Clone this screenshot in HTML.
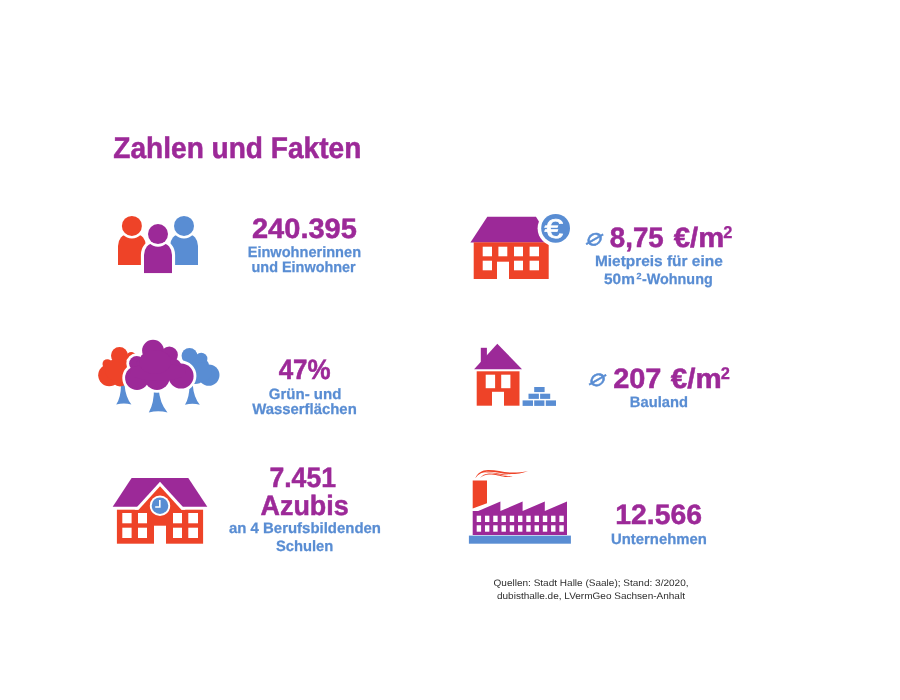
<!DOCTYPE html>
<html lang="de"><head><meta charset="utf-8"><title>Zahlen und Fakten</title>
<style>
html,body{margin:0;padding:0;background:#fff;}
body{width:900px;height:700px;overflow:hidden;}
svg{display:block;font-family:"Liberation Sans",sans-serif;text-rendering:geometricPrecision;}
</style></head><body>
<svg width="900" height="700" viewBox="0 0 900 700">
<!-- people -->
<g id="people">
 <path fill="#ee4328" d="M118,265 V246 A10,12 0 0 1 128,234 H136 A10,12 0 0 1 146,246 V265 Z"/>
 <circle cx="131.9" cy="225.9" r="12.6" fill="#fff"/><circle cx="131.9" cy="225.9" r="10" fill="#ee4328"/>
 <path fill="#598dd3" d="M170,265 V246 A10,12 0 0 1 180,234 H188 A10,12 0 0 1 198,246 V265 Z"/>
 <circle cx="184" cy="225.9" r="12.6" fill="#fff"/><circle cx="184" cy="225.9" r="10" fill="#598dd3"/>
 <path fill="#9c2998" stroke="#fff" stroke-width="6.2" paint-order="stroke" d="M144,273.3 V255 A10,12 0 0 1 154,243 H162 A10,12 0 0 1 172,255 V273.3 Z"/>
 <rect x="140" y="273.3" width="36" height="4" fill="#fff"/>
 <circle cx="158" cy="234.1" r="12.6" fill="#fff"/><circle cx="158" cy="234.1" r="10" fill="#9c2998"/>
</g>
<!-- trees -->
<g id="trees">
 <!-- trunks -->
 <path fill="#598dd3" d="M121,385 H124.6 Q125.5,397 131.4,404.6 Q124,402.6 116.2,404.6 Q121,397 121,385 Z"/>
 <path fill="#598dd3" d="M189.4,385 H192.8 Q193.6,397 199.8,404.8 Q192.5,402.8 185,404.8 Q189.6,397 189.4,385 Z"/>
 <path fill="#598dd3" d="M154,388 H158.6 Q159.5,403 167.5,412.6 Q158.3,410 148.8,412.6 Q154.2,403 154,388 Z"/>
 <!-- red crown -->
 <g fill="#ee4328">
  <circle cx="119.5" cy="355.6" r="8.5"/>
  <circle cx="131.2" cy="356.5" r="4.5"/>
  <circle cx="107.3" cy="364" r="4.8"/>
  <circle cx="109.2" cy="375.3" r="11"/>
  <circle cx="124" cy="372" r="12"/>
  <circle cx="120" cy="378" r="8.5"/>
  <ellipse cx="117" cy="370" rx="12" ry="11"/>
 </g>
 <!-- blue crown -->
 <g fill="#598dd3">
  <circle cx="189.5" cy="355.8" r="7.9"/>
  <circle cx="201.2" cy="359" r="6.2"/>
  <circle cx="208.8" cy="375.1" r="10.7"/>
  <circle cx="195" cy="372" r="12"/>
  <circle cx="200" cy="366" r="9"/>
  <ellipse cx="200" cy="372" rx="12" ry="10"/>
 </g>
 <!-- purple crown with white outline -->
 <g id="pc" fill="#9c2998" stroke="#fff" stroke-width="5.6">
  <circle cx="153" cy="350.6" r="10.9"/>
  <circle cx="169.3" cy="355" r="8.6"/>
  <circle cx="136.7" cy="363.6" r="7.6"/>
  <circle cx="137" cy="378" r="11.9"/>
  <circle cx="157" cy="377.4" r="12.6"/>
  <circle cx="181" cy="376" r="12.6"/>
  <circle cx="160" cy="366" r="14"/>
 </g>
 <g fill="#9c2998">
  <circle cx="153" cy="350.6" r="10.9"/>
  <circle cx="169.3" cy="355" r="8.6"/>
  <circle cx="136.7" cy="363.6" r="7.6"/>
  <circle cx="137" cy="378" r="11.9"/>
  <circle cx="157" cy="377.4" r="12.6"/>
  <circle cx="181" cy="376" r="12.6"/>
  <circle cx="160" cy="366" r="14"/>
  <circle cx="146" cy="366" r="10"/>
  <circle cx="172" cy="368" r="10"/>
  <ellipse cx="158" cy="372" rx="28" ry="9"/>
  <ellipse cx="155" cy="362" rx="16" ry="12"/>
 </g>
</g>
<!-- school -->
<g id="school">
 <polygon fill="#9c2998" points="131.6,477.9 188.3,477.9 207.3,506.7 112.7,506.7"/>
 <rect fill="#ee4328" x="116.9" y="509.7" width="86.2" height="34"/>
 <!-- gable white outline + red gable -->
 <polygon fill="#fff" points="160,481.7 185.5,509.7 134.5,509.7"/>
 <polygon fill="#ee4328" points="160,486.3 181.6,510 138.4,510"/>
 <circle cx="160" cy="505.7" r="10.2" fill="#fff"/>
 <circle cx="160" cy="505.7" r="8.3" fill="#598dd3"/>
 <path d="M159.8,500 V507 H155.2" fill="none" stroke="#fff" stroke-width="1.6"/>
 <g fill="#fff">
  <rect x="122.3" y="513" width="9.3" height="10.3"/><rect x="138" y="513" width="9" height="10.3"/>
  <rect x="122.3" y="527.7" width="9.3" height="10.3"/><rect x="138" y="527.7" width="9" height="10.3"/>
  <rect x="173" y="513" width="9" height="10.3"/><rect x="188.3" y="513" width="9.7" height="10.3"/>
  <rect x="173" y="527.7" width="9" height="10.3"/><rect x="188.3" y="527.7" width="9.7" height="10.3"/>
  <rect x="154" y="525.7" width="12" height="18.5"/>
 </g>
</g>
<!-- house with euro -->
<g id="rent">
 <polygon fill="#9c2998" points="487.3,216.7 536,216.7 552,242.5 470.4,242.5"/>
 <rect fill="#ee4328" x="473.7" y="242.3" width="75" height="36.7"/>
 <g fill="#fff">
  <rect x="482.7" y="246.7" width="9.3" height="9.6"/><rect x="498.4" y="246.7" width="8.9" height="9.6"/>
  <rect x="514" y="246.7" width="9" height="9.6"/><rect x="529.6" y="246.7" width="9.4" height="9.6"/>
  <rect x="482.7" y="260.7" width="9.3" height="9.6"/>
  <rect x="514" y="260.7" width="9" height="9.6"/><rect x="529.6" y="260.7" width="9.4" height="9.6"/>
  <rect x="497" y="261.7" width="12" height="17.8"/>
 </g>
 <circle cx="555.6" cy="228.3" r="18" fill="#fff"/>
 <circle cx="555.6" cy="228.3" r="14.4" fill="#598dd3"/>
 <text id="euro" x="544.6" y="237.9" font-size="27" font-weight="normal" fill="#fff" stroke="#fff" stroke-width="0.7" textLength="18.6" lengthAdjust="spacingAndGlyphs">€</text>
</g>
<!-- house with bricks -->
<g id="land">
 <polygon fill="#9c2998" points="497.3,343.8 522,369.2 474.1,369.2"/>
 <rect fill="#9c2998" x="480.8" y="347.8" width="6.1" height="15"/>
 <rect fill="#ee4328" x="476.7" y="371.3" width="42.8" height="34.4"/>
 <g fill="#fff">
  <rect x="485.7" y="374.7" width="9.4" height="13.5"/><rect x="501.2" y="374.7" width="9.2" height="13.5"/>
  <rect x="492" y="391.8" width="12" height="14.4"/>
 </g>
 <g fill="#598dd3">
  <rect x="522.6" y="400.4" width="10.4" height="5.5"/><rect x="534.2" y="400.4" width="10.2" height="5.5"/><rect x="545.8" y="400.4" width="10.2" height="5.5"/>
  <rect x="528.5" y="393.7" width="10.4" height="5.2"/><rect x="540.1" y="393.7" width="10.1" height="5.2"/>
  <rect x="534.2" y="387" width="10.4" height="5.1"/>
 </g>
</g>
<!-- factory -->
<g id="factory">
 <rect fill="#598dd3" x="468.9" y="535.6" width="102" height="8.1"/>
 <path fill="#9c2998" d="M472.7,535 V511 H478.2 L500.4,501.6 V511 L522.6,501.6 V511 L544.8,501.6 V511 L567,501.6 V535 Z"/>
 <polygon fill="#ee4328" points="472.7,480.4 487,480.4 487,503.3 472.7,508.4"/>
 <g fill="#ee4328">
  <path d="M475.3,478.2 C477.5,473 482,470.2 488,470.1 C496,470 502,472.2 510,472.5 C517,472.7 522,472.2 528,470.9 C522,473.4 517,474.1 510,474.1 C502,473.9 496,471.7 488,471.7 C483,471.8 478.6,473.6 475.3,478.2 Z"/>
  <path d="M480,478.1 C482,475.3 485,473.5 489,473.4 C496,473.3 501,475.4 506,475.9 C509,476.2 511,476.2 512.6,476 C510,477.1 508,477.1 505,476.9 C500,476.4 496,474.6 489,474.6 C485.5,474.7 482.5,476 480,478.1 Z"/>
  <path d="M483,472.6 C488,471.6 494,472.6 500,473.8 C504,474.6 508,474.9 511,474.6 C507,475.6 503,475.3 499,474.5 C494,473.4 489,472.4 483,472.6 Z"/>
 </g>
 <g fill="#fff"><rect x="476.70" y="515.7" width="4.4" height="6.3"/><rect x="476.70" y="525.3" width="4.4" height="6.4"/><rect x="484.96" y="515.7" width="4.4" height="6.3"/><rect x="484.96" y="525.3" width="4.4" height="6.4"/><rect x="493.23" y="515.7" width="4.4" height="6.3"/><rect x="493.23" y="525.3" width="4.4" height="6.4"/><rect x="501.50" y="515.7" width="4.4" height="6.3"/><rect x="501.50" y="525.3" width="4.4" height="6.4"/><rect x="509.76" y="515.7" width="4.4" height="6.3"/><rect x="509.76" y="525.3" width="4.4" height="6.4"/><rect x="518.02" y="515.7" width="4.4" height="6.3"/><rect x="518.02" y="525.3" width="4.4" height="6.4"/><rect x="526.29" y="515.7" width="4.4" height="6.3"/><rect x="526.29" y="525.3" width="4.4" height="6.4"/><rect x="534.55" y="515.7" width="4.4" height="6.3"/><rect x="534.55" y="525.3" width="4.4" height="6.4"/><rect x="542.82" y="515.7" width="4.4" height="6.3"/><rect x="542.82" y="525.3" width="4.4" height="6.4"/><rect x="551.09" y="515.7" width="4.4" height="6.3"/><rect x="551.09" y="525.3" width="4.4" height="6.4"/><rect x="559.35" y="515.7" width="4.4" height="6.3"/><rect x="559.35" y="525.3" width="4.4" height="6.4"/></g>
</g>

<g>
<text id="t0" x="113.33" y="157.50" font-size="29.8" font-weight="bold" fill="#9c2998" stroke="#9c2998" stroke-width="0.5" textLength="247.97" lengthAdjust="spacingAndGlyphs">Zahlen und Fakten</text>
<text id="t1" x="251.97" y="237.50" font-size="28" font-weight="bold" fill="#9c2998" stroke="#9c2998" stroke-width="0.5" textLength="104.88" lengthAdjust="spacingAndGlyphs">240.395</text>
<text id="t2" x="247.67" y="256.60" font-size="15" font-weight="bold" fill="#598dd3" stroke="#598dd3" stroke-width="0.25" textLength="113.38" lengthAdjust="spacingAndGlyphs">Einwohnerinnen</text>
<text id="t3" x="251.50" y="272.40" font-size="15" font-weight="bold" fill="#598dd3" stroke="#598dd3" stroke-width="0.25" textLength="104.24" lengthAdjust="spacingAndGlyphs">und Einwohner</text>
<text id="t4" x="278.63" y="378.50" font-size="28" font-weight="bold" fill="#9c2998" stroke="#9c2998" stroke-width="0.5" textLength="52.01" lengthAdjust="spacingAndGlyphs">47%</text>
<text id="t5" x="268.76" y="398.60" font-size="15" font-weight="bold" fill="#598dd3" stroke="#598dd3" stroke-width="0.25" textLength="72.58" lengthAdjust="spacingAndGlyphs">Grün- und</text>
<text id="t6" x="252.17" y="413.50" font-size="15" font-weight="bold" fill="#598dd3" stroke="#598dd3" stroke-width="0.25" textLength="104.60" lengthAdjust="spacingAndGlyphs">Wasserflächen</text>
<text id="t7" x="269.46" y="486.80" font-size="28" font-weight="bold" fill="#9c2998" stroke="#9c2998" stroke-width="0.5" textLength="66.48" lengthAdjust="spacingAndGlyphs">7.451</text>
<text id="t8" x="260.53" y="514.80" font-size="28" font-weight="bold" fill="#9c2998" stroke="#9c2998" stroke-width="0.5" textLength="88.19" lengthAdjust="spacingAndGlyphs">Azubis</text>
<text id="t9" x="229.01" y="532.70" font-size="15" font-weight="bold" fill="#598dd3" stroke="#598dd3" stroke-width="0.25" textLength="151.95" lengthAdjust="spacingAndGlyphs">an 4 Berufsbildenden</text>
<text id="t10" x="275.96" y="550.90" font-size="15" font-weight="bold" fill="#598dd3" stroke="#598dd3" stroke-width="0.25" textLength="57.37" lengthAdjust="spacingAndGlyphs">Schulen</text>
<text id="t11" x="609.81" y="246.90" font-size="28" font-weight="bold" fill="#9c2998" stroke="#9c2998" stroke-width="0.5" textLength="53.93" lengthAdjust="spacingAndGlyphs">8,75</text>
<text id="t11b" x="673.75" y="246.90" font-size="28" font-weight="bold" fill="#9c2998" stroke="#9c2998" stroke-width="0.5" textLength="50.50" lengthAdjust="spacingAndGlyphs">€/m</text>
<text id="t11c" x="723.30" y="238.00" font-size="17.1" font-weight="bold" fill="#9c2998" stroke="#9c2998" stroke-width="0.25" textLength="9.15" lengthAdjust="spacingAndGlyphs">2</text>
<text id="t12" x="594.95" y="265.80" font-size="15" font-weight="bold" fill="#598dd3" stroke="#598dd3" stroke-width="0.25" textLength="127.80" lengthAdjust="spacingAndGlyphs">Mietpreis für eine</text>
<text id="t13" x="604.05" y="283.80" font-size="15" font-weight="bold" fill="#598dd3" stroke="#598dd3" stroke-width="0.25" textLength="30.81" lengthAdjust="spacingAndGlyphs">50m</text>
<text id="t13b" x="636.51" y="278.50" font-size="8.8" font-weight="bold" fill="#598dd3" stroke="#598dd3" stroke-width="0.25" textLength="5.03" lengthAdjust="spacingAndGlyphs">2</text>
<text id="t13c" x="641.97" y="283.80" font-size="15" font-weight="bold" fill="#598dd3" stroke="#598dd3" stroke-width="0.25" textLength="70.71" lengthAdjust="spacingAndGlyphs">-Wohnung</text>
<text id="t14" x="613.16" y="388.10" font-size="28" font-weight="bold" fill="#9c2998" stroke="#9c2998" stroke-width="0.5" textLength="48.26" lengthAdjust="spacingAndGlyphs">207</text>
<text id="t14b" x="670.88" y="388.10" font-size="28" font-weight="bold" fill="#9c2998" stroke="#9c2998" stroke-width="0.5" textLength="50.85" lengthAdjust="spacingAndGlyphs">€/m</text>
<text id="t14c" x="720.68" y="379.00" font-size="16.9" font-weight="bold" fill="#9c2998" stroke="#9c2998" stroke-width="0.25" textLength="9.19" lengthAdjust="spacingAndGlyphs">2</text>
<text id="t15" x="629.83" y="406.90" font-size="15" font-weight="bold" fill="#598dd3" stroke="#598dd3" stroke-width="0.25" textLength="58.09" lengthAdjust="spacingAndGlyphs">Bauland</text>
<text id="t16" x="615.35" y="523.60" font-size="28" font-weight="bold" fill="#9c2998" stroke="#9c2998" stroke-width="0.5" textLength="86.66" lengthAdjust="spacingAndGlyphs">12.566</text>
<text id="t17" x="611.04" y="543.60" font-size="15" font-weight="bold" fill="#598dd3" stroke="#598dd3" stroke-width="0.25" textLength="95.85" lengthAdjust="spacingAndGlyphs">Unternehmen</text>
<text id="t18" x="493.56" y="586.00" font-size="9.45" font-weight="normal" fill="#2e2e2e" textLength="194.95" lengthAdjust="spacingAndGlyphs">Quellen: Stadt Halle (Saale); Stand: 3/2020,</text>
<text id="t19" x="496.98" y="598.60" font-size="9.45" font-weight="normal" fill="#2e2e2e" textLength="187.96" lengthAdjust="spacingAndGlyphs">dubisthalle.de, LVermGeo Sachsen-Anhalt</text>
<text id="d1" x="587.26" y="245.36" font-family="DejaVu Sans, sans-serif" font-size="24.4" fill="#598dd3" stroke="#598dd3" stroke-width="0.5" transform="translate(594.6 239.3) skewX(-12) scale(1.07 1) rotate(10) translate(-594.6 -239.3)">⌀</text>
<text id="d2" x="590.16" y="385.86" font-family="DejaVu Sans, sans-serif" font-size="24.4" fill="#598dd3" stroke="#598dd3" stroke-width="0.5" transform="translate(597.5 379.8) skewX(-12) scale(1.07 1) rotate(10) translate(-597.5 -379.8)">⌀</text>
</g>
</svg>
</body></html>
